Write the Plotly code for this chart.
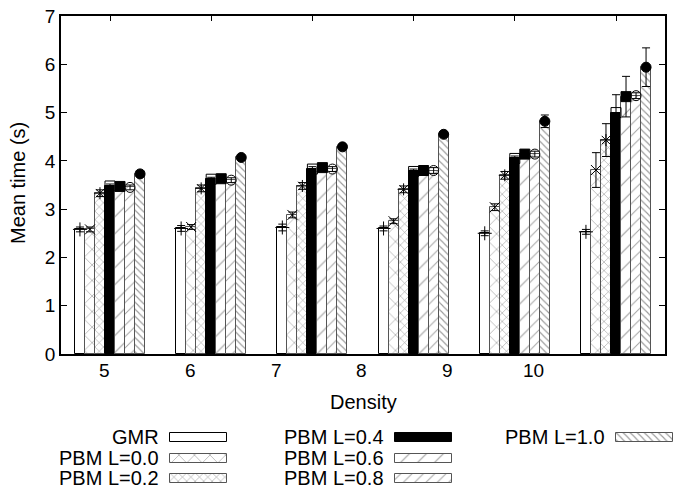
import plotly.graph_objects as go

# densities and mean times
densities = ['5', '6', '7', '8', '9', '10']
names = ['GMR', 'PBM L=0.0', 'PBM L=0.2', 'PBM L=0.4', 'PBM L=0.6', 'PBM L=0.8', 'PBM L=1.0']

gmr = [2.58, 2.60, 2.62, 2.60, 2.50, 2.53]
pbm_00 = [2.58, 2.63, 2.88, 2.75, 3.04, 3.81]
pbm_02 = [3.33, 3.43, 3.48, 3.41, 3.70, 4.43]
pbm_04 = [3.48, 3.62, 3.83, 3.78, 4.05, 5.00]
pbm_06 = [3.47, 3.63, 3.86, 3.80, 4.14, 5.33]
pbm_08 = [3.45, 3.60, 3.83, 3.80, 4.14, 5.35]
pbm_10 = [3.73, 4.07, 4.29, 4.55, 4.82, 5.94]

gmr_err = [0.05, 0.06, 0.07, 0.05, 0.05, 0.05]
pbm_00_err = [0.05, 0.05, 0.06, 0.05, 0.07, 0.36]
pbm_02_err = [0.07, 0.07, 0.07, 0.07, 0.08, 0.34]
pbm_04_err = [0.04, 0.04, 0.05, 0.05, 0.05, 0.37]
pbm_06_err = [0.04, 0.04, 0.04, 0.05, 0.08, 0.42]
pbm_08_err = [0.05, 0.05, 0.05, 0.06, 0.06, 0.06]
pbm_10_err = [0.04, 0.04, 0.05, 0.05, 0.13, 0.40]

series = [gmr, pbm_00, pbm_02, pbm_04, pbm_06, pbm_08, pbm_10]
errors = [gmr_err, pbm_00_err, pbm_02_err, pbm_04_err, pbm_06_err, pbm_08_err, pbm_10_err]

# gnuplot-ish look
styles = [
    dict(color='white', pattern=dict(shape='')),
    dict(color='white', pattern=dict(shape='x', size=11, solidity=0.12, fgcolor='#444')),
    dict(color='white', pattern=dict(shape='x', size=6, solidity=0.18, fgcolor='#333')),
    dict(color='black', pattern=dict(shape='')),
    dict(color='white', pattern=dict(shape='/', size=12, solidity=0.1, fgcolor='#444')),
    dict(color='white', pattern=dict(shape='/', size=8, solidity=0.12, fgcolor='#444')),
    dict(color='white', pattern=dict(shape='\\', size=5, solidity=0.22, fgcolor='#333')),
]
outline = ['black', '#555', '#555', 'black', '#555', '#555', '#555']
symbols = ['cross-thin-open', 'x-thin-open', 'asterisk-open', 'square-open',
           'square', 'circle-open', 'circle']

W, H = 676, 489
PL, PR, PT, PB = 61, 665, 16, 354   # plot box in pixels
FONT = 'Liberation Sans, Arial, sans-serif'

bw = 0.099
n = len(names)
fig = go.Figure()

for j in range(n):
    xs = [i + (j - (n - 1) / 2) * bw for i in range(len(densities))]
    fig.add_trace(go.Bar(
        x=xs, y=series[j], width=bw, name=names[j],
        marker=dict(color=styles[j]['color'], pattern=styles[j]['pattern'],
                    line=dict(color=outline[j], width=1)),
        showlegend=False))
    fig.add_trace(go.Scatter(
        x=xs, y=series[j], mode='markers', showlegend=False,
        marker=dict(symbol=symbols[j], size=10, color='black',
                    line=dict(color='black', width=1)),
        error_y=dict(type='data', array=errors[j], width=4, thickness=1, color='black')))

# legend drawn by hand: text first, sample box to its right
col_left = [170, 395, 616]
row_y = [52, 31, 11]
for j in range(n):
    c, r = j // 3, j % 3
    fig.add_trace(go.Bar(
        x=[57], base=[col_left[c]], y=[row_y[r]], width=[9], orientation='h',
        xaxis='x3', yaxis='y3', showlegend=False, hoverinfo='skip',
        marker=dict(color=styles[j]['color'], pattern=styles[j]['pattern'],
                    line=dict(color=outline[j], width=1))))
    fig.add_annotation(x=col_left[c] - 9, y=row_y[r], xref='x3', yref='y3',
                       text=names[j], showarrow=False, xanchor='right', yanchor='middle',
                       font=dict(size=20, family=FONT, color='black'))

xrange = [-(110 - PL) / 101.2, (PR - 110) / 101.2]
# gnuplot put the tick labels on their own spacing, not under the clusters
label_pos = [-0.05 + k * 0.846 for k in range(len(densities))]
for k, lab in enumerate(densities):
    fig.add_annotation(x=label_pos[k], y=1 - 370 / H, xref='x', yref='paper', text=lab,
                       showarrow=False, xanchor='center', yanchor='middle',
                       font=dict(size=19, family=FONT, color='black'))

fig.update_layout(
    width=W, height=H,
    margin=dict(l=0, r=0, t=0, b=0, autoexpand=False),
    plot_bgcolor='white', paper_bgcolor='white',
    barmode='overlay', bargap=0,
    font=dict(family=FONT, size=19, color='black'),
    xaxis=dict(domain=[PL / W, PR / W], range=xrange, tickvals=list(range(len(densities))),
               showticklabels=False, ticks='inside', ticklen=5, tickcolor='black',
               showline=True, linecolor='black', linewidth=1.5, mirror='allticks',
               showgrid=False, zeroline=False, anchor='y', automargin=False),
    yaxis=dict(domain=[1 - PB / H, 1 - PT / H], range=[0, 7], dtick=1,
               ticks='inside', ticklen=6, tickcolor='black',
               showline=True, linecolor='black', linewidth=1.5, mirror='allticks',
               showgrid=False, zeroline=False, tickfont=dict(size=19), automargin=False),
    xaxis3=dict(domain=[0, 1], range=[0, W], visible=False, anchor='y3', fixedrange=True),
    yaxis3=dict(domain=[0, 1 - PB / H], range=[0, H - PB], visible=False, anchor='x3',
                fixedrange=True),
)

fig.add_annotation(x=18 / W, y=1 - 183 / H, xref='paper', yref='paper', text='Mean time (s)',
                   textangle=-90, showarrow=False, xanchor='center', yanchor='middle',
                   font=dict(size=20, family=FONT))
fig.add_annotation(x=(PL + PR) / 2 / W, y=1 - 402 / H, xref='paper', yref='paper',
                   text='Density', showarrow=False, xanchor='center', yanchor='middle',
                   font=dict(size=20, family=FONT))

# the page's default body margin would push the figure off by 8px
fig.write_html('out.html', config={'displayModeBar': False},
               post_script="document.body.style.margin='0';")
